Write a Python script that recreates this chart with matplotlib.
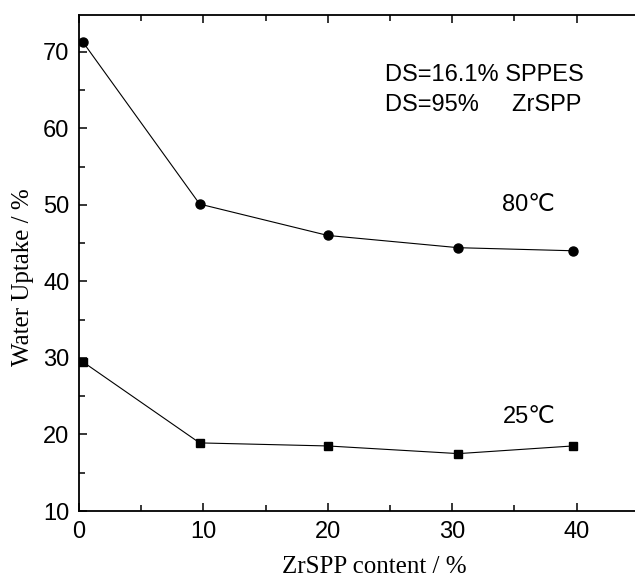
import matplotlib
matplotlib.use('Agg')
from matplotlib import pyplot
import matplotlib.ticker as plt

content_80 = [0.3, 9.7, 20.0, 30.5, 39.7]
uptake_80 = [71.3, 50.1, 46.0, 44.4, 44.0]
content_25 = [0.3, 9.7, 20.0, 30.5, 39.7]
uptake_25 = [29.5, 18.9, 18.5, 17.5, 18.5]

fig = pyplot.figure(figsize=(6.35, 5.79), dpi=100)
ax = fig.add_axes([0.1244, 0.1174, 0.8756, 0.8567])

ax.plot(content_80, uptake_80, c='black', linewidth=0.8, marker='o', markersize=6.5)
ax.plot(content_25, uptake_25, c='black', linewidth=0.8, marker='s', markersize=6)

ax.set_xlim(0, 44.7)
ax.set_ylim(10, 74.8)

ax.xaxis.set_major_locator(plt.MultipleLocator(10))
ax.xaxis.set_minor_locator(plt.MultipleLocator(5))
ax.yaxis.set_major_locator(plt.MultipleLocator(10))
ax.yaxis.set_minor_locator(plt.MultipleLocator(5))

ax.spines['right'].set_visible(False)
for s in ['left', 'bottom', 'top']:
    ax.spines[s].set_linewidth(1.3)

ax.tick_params(which='both', direction='in', top=True, width=1.1,
               labelsize=17, labelfontfamily='Liberation Sans')
ax.tick_params(which='major', length=6)
ax.tick_params(which='minor', length=4)
ax.tick_params(axis='x', pad=7)
ax.tick_params(axis='y', pad=7)

ax.set_xlabel('ZrSPP content / %', family='Liberation Serif', fontsize=18)
ax.set_ylabel('Water Uptake / %', family='Liberation Serif', fontsize=18)
ax.xaxis.set_label_coords(0.532, -0.09)
ax.yaxis.set_label_coords(-0.081, 0.472)

ax.text(24.6, 67.0, 'DS=16.1% SPPES', family='Liberation Sans', fontsize=17, va='center')
ax.text(24.6, 63.1, 'DS=95%     ZrSPP', family='Liberation Sans', fontsize=17, va='center')
ax.text(34.0, 50.0, '80\u2103', family=['Liberation Sans', 'DejaVu Sans'], fontsize=17, va='center')
ax.text(34.1, 22.3, '25\u2103', family=['Liberation Sans', 'DejaVu Sans'], fontsize=17, va='center')

fig.savefig('out.png')
